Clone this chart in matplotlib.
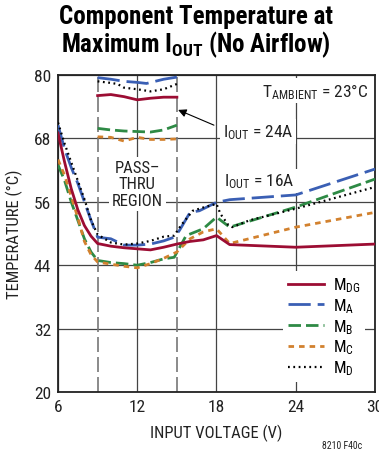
import matplotlib
matplotlib.use("Agg")
import matplotlib.pyplot as plt

# upper group: Iout = 24A, pass-thru region only
x_hi_dg = [9, 10, 11, 12, 13, 14, 15]
t_hi_dg = [76.1, 76.3, 75.9, 75.3, 75.6, 75.8, 75.8]
x_hi_a = [9, 10, 11, 12, 12.7, 14, 15]
t_hi_a = [79.5, 79.2, 78.8, 78.6, 78.4, 79.2, 79.6]
x_hi_b = [9, 10, 11, 12, 13, 14, 15]
t_hi_b = [69.9, 69.6, 69.4, 69.3, 69.2, 69.6, 70.5]
x_hi_c = [9, 10, 11, 12, 13, 14, 15]
t_hi_c = [68.3, 68.2, 67.5, 68.2, 67.8, 67.8, 67.9]
x_hi_d = [9, 10, 10.5, 11, 12, 13, 14, 15]
t_hi_d = [78.8, 78.5, 78.3, 77.6, 77.3, 76.9, 77.3, 78.3]

# lower group: Iout = 16A
x_lo_dg = [6, 6.5, 7, 7.5, 8, 8.5, 9, 10, 11, 12, 13, 14, 15, 16, 17, 18, 19, 24, 30]
t_lo_dg = [69.0, 63.5, 58.5, 54.5, 51.5, 49.5, 48.1, 47.6, 47.3, 47.1, 46.9, 47.4, 48.0, 48.5, 48.8, 49.6, 47.9, 47.4, 48.0]
x_lo_a = [6, 6.5, 7, 7.5, 8, 8.5, 9, 10, 11, 12, 13, 14, 14.8, 15.2, 16, 16.7, 18, 19, 24, 30]
t_lo_a = [70.5, 66.0, 62.5, 59.5, 56.0, 52.5, 49.3, 49.0, 47.8, 47.8, 48.0, 48.6, 49.3, 50.6, 54.0, 54.3, 55.9, 56.4, 57.3, 62.2]
x_lo_b = [6, 6.5, 7, 7.5, 8, 8.5, 9, 10, 11, 12, 13, 14, 14.8, 15.7, 17, 18, 19, 24, 30]
t_lo_b = [63.0, 60.0, 56.0, 52.5, 49.0, 46.5, 44.9, 44.5, 44.3, 44.0, 44.5, 45.2, 45.5, 49.6, 50.9, 53.1, 51.2, 55.0, 60.3]
x_lo_c = [6, 6.5, 7, 7.5, 8, 8.5, 9, 10, 11, 12, 13, 14, 15, 16, 17, 18, 19, 24, 30]
t_lo_c = [64.0, 61.0, 57.0, 53.0, 48.5, 46.0, 44.6, 44.2, 43.8, 43.5, 44.3, 45.3, 46.5, 49.0, 50.3, 50.9, 48.1, 51.2, 54.0]
x_lo_d = [6, 6.5, 7, 7.5, 8, 8.5, 9, 10, 11, 12, 13, 14, 14.8, 15.3, 16.2, 17.1, 18, 18.3, 18.9, 19.2, 20.5, 24, 30]
t_lo_d = [71.0, 67.0, 63.5, 60.0, 56.5, 52.5, 49.8, 48.3, 47.9, 48.1, 48.6, 49.4, 49.6, 51.5, 54.3, 55.0, 55.6, 53.7, 51.6, 51.2, 52.5, 54.7, 58.8]

xticks = [6, 12, 18, 24, 30]
yticks = [20, 32, 44, 56, 68, 80]

narrow = ["Roboto Condensed", "DejaVu Sans"]
plt.rcParams["font.family"] = narrow
plt.rcParams["mathtext.fontset"] = "custom"
plt.rcParams["mathtext.rm"] = "Roboto Condensed"
plt.rcParams["mathtext.bf"] = "Roboto Condensed:bold"
plt.rcParams["mathtext.it"] = "Roboto Condensed:italic"

red = "#9c0d33"
blue = "#3a5fb4"
green = "#2e8a45"
orange = "#d2812e"
ink = "#222222"

fig = plt.figure(figsize=(3.79, 4.56), dpi=100)
ax = fig.add_axes([58 / 379, 63 / 456, 317 / 379, 317 / 456])

styles = {
    "dg": dict(color=red, lw=2.0, ls="-"),
    "a": dict(color=blue, lw=2.0, ls=(0, (8, 2.5))),
    "b": dict(color=green, lw=2.0, ls=(0, (4.5, 1.8))),
    "c": dict(color=orange, lw=2.0, ls=(0, (2, 1.8))),
    "d": dict(color="black", lw=1.6, ls=(0, (0.8, 1.6))),
}

ax.plot(x_lo_dg, t_lo_dg, label=r"M$_{\mathrm{DG}}$", zorder=5, **styles["dg"])
ax.plot(x_lo_a, t_lo_a, label=r"M$_{\mathrm{A}}$", zorder=4, **styles["a"])
ax.plot(x_lo_b, t_lo_b, label=r"M$_{\mathrm{B}}$", zorder=4, **styles["b"])
ax.plot(x_lo_c, t_lo_c, label=r"M$_{\mathrm{C}}$", zorder=4, **styles["c"])
ax.plot(x_lo_d, t_lo_d, label=r"M$_{\mathrm{D}}$", zorder=4, **styles["d"])

ax.plot(x_hi_dg, t_hi_dg, zorder=5, **styles["dg"])
ax.plot(x_hi_a, t_hi_a, zorder=4, **styles["a"])
ax.plot(x_hi_b, t_hi_b, zorder=4, **styles["b"])
ax.plot(x_hi_c, t_hi_c, zorder=4, **styles["c"])
ax.plot(x_hi_d, t_hi_d, zorder=4, **styles["d"])

# pass-thru boundaries
for xv in (9, 15):
    ax.axvline(xv, color="#777777", lw=1.2, ls=(0, (9, 3)), zorder=1)

ax.set_xlim(6, 30)
ax.set_ylim(20, 80)
ax.set_xticks(xticks)
ax.set_yticks(yticks)
ax.grid(True, color="#444444", lw=0.9, zorder=0)
ax.set_axisbelow(True)
ax.tick_params(length=0, labelsize=12.5, pad=5, colors=ink)
for s in ax.spines.values():
    s.set_linewidth(1.3)
    s.set_color(ink)

ax.set_xlabel("INPUT VOLTAGE (V)", fontsize=12, color=ink, labelpad=7)
ax.set_ylabel("TEMPERATURE (°C)", fontsize=12, color=ink, labelpad=8)

box = dict(facecolor="white", edgecolor="none", pad=2)
ax.text(12, 59.4, "PASS–\nTHRU\nREGION", ha="center", va="center", fontsize=12,
        linespacing=1.15, color=ink, bbox=box, zorder=3)
ax.text(29.5, 77.0, r"T$_{\mathrm{AMBIENT}}$ = 23°C", ha="right", va="center",
        fontsize=12.5, color=ink, bbox=box, zorder=3)
ax.text(18.5, 69.3, r"I$_{\mathrm{OUT}}$ = 24A", ha="left", va="center",
        fontsize=12.5, color=ink, bbox=box, zorder=3)
ax.text(18.6, 60.0, r"I$_{\mathrm{OUT}}$ = 16A", ha="left", va="center",
        fontsize=12.5, color=ink, bbox=box, zorder=3)
ax.annotate("", xy=(14.9, 73.6), xytext=(18.0, 70.3),
            arrowprops=dict(arrowstyle="-|>", color="black", lw=0.8,
                            mutation_scale=12), zorder=6)

leg = ax.legend(loc="lower right", bbox_to_anchor=(0.995, 0.005), fontsize=12,
                frameon=True, framealpha=1, edgecolor="none", fancybox=False,
                handlelength=2.2, handletextpad=0.5, labelspacing=0.12,
                borderpad=0.3)
leg.set_zorder(3)

fig.text(0.517, 0.962, "Component Temperature at", ha="center", va="center",
         fontsize=18, fontweight="bold")
fig.text(0.517, 0.902, r"Maximum I$_{\mathbf{OUT}}$ (No Airflow)", ha="center",
         va="center", fontsize=18, fontweight="bold")
fig.text(0.955, 0.012, "8210 F40c", ha="right", va="bottom", fontsize=7,
         color=ink)

fig.savefig("out.png", dpi=100)
